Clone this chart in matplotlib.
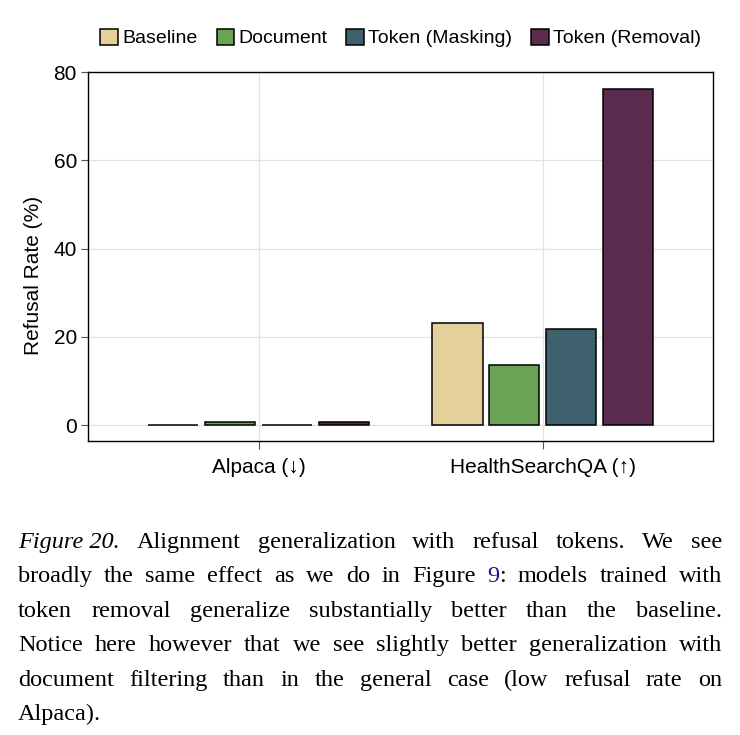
import matplotlib
matplotlib.use('Agg')
import matplotlib.pyplot as plt
import numpy as np

categories = ['Alpaca (↓)', 'HealthSearchQA (↑)']
methods = ['Baseline', 'Document', 'Token (Masking)', 'Token (Removal)']
baseline = [0.0, 23.1]
document = [0.7, 13.6]
masking = [0.0, 21.8]
removal = [0.8, 76.2]
colors = ['#E3D09A', '#6AA356', '#3F616D', '#5A2A4F']

caption_lines = [
    [[('Figure 20.', 'italic')], 'Alignment', 'generalization', 'with', 'refusal', 'tokens.', 'We', 'see'],
    ['broadly', 'the', 'same', 'effect', 'as', 'we', 'do', 'in', 'Figure', [('9', 'blue'), (':', 'normal')],
     'models', 'trained', 'with'],
    ['token', 'removal', 'generalize', 'substantially', 'better', 'than', 'the', 'baseline.'],
    ['Notice', 'here', 'however', 'that', 'we', 'see', 'slightly', 'better', 'generalization', 'with'],
    ['document', 'filtering', 'than', 'in', 'the', 'general', 'case', '(low', 'refusal', 'rate', 'on'],
    ['Alpaca).'],
]

plt.rcParams['font.family'] = ['Liberation Sans', 'DejaVu Sans']

fig = plt.figure(figsize=(7.4, 7.35), dpi=100)
ax = fig.add_axes([0.119, 0.4, 0.8446, 0.502])

series = [baseline, document, masking, removal]
x = np.arange(len(categories))
width = 0.177
offsets = [-0.3, -0.1, 0.1, 0.3]
for vals, off, c, lab in zip(series, offsets, colors, methods):
    ax.bar(x + off, vals, width, color=c, edgecolor='black', linewidth=1.1, label=lab, zorder=3)

ax.set_xlim(-0.6, 1.6)
ax.set_ylim(-3.6, 80)
ax.set_yticks([0, 20, 40, 60, 80])
ax.set_xticks(x)
ax.set_xticklabels(categories, fontsize=15)
ax.tick_params(axis='y', labelsize=15, length=5, color='#555555', pad=3)
ax.tick_params(axis='x', length=6, color='#555555', pad=6)
ax.grid(True, color='#e3e3e3', linewidth=0.9, zorder=0)
for s in ax.spines.values():
    s.set_linewidth(1.0)
ax.set_ylabel('Refusal Rate (%)', fontsize=15)
ax.yaxis.set_label_coords(-0.072, 0.45)

ax.legend(loc='center', bbox_to_anchor=(0.5, 1.092), ncol=4, frameon=False,
          fontsize=14, handlelength=0.9, handleheight=0.9, handletextpad=0.2,
          columnspacing=1.0, borderaxespad=0, borderpad=0)

# caption, justified line by line
fig.canvas.draw()
r = fig.canvas.get_renderer()
x0, x1 = 18 / 740, 722 / 740
y_top = 1 - 548 / 735
step = 34.4 / 735
fs = 17.5


def piece_text(xp, yp, txt, style):
    kw = dict(fontsize=fs, family='Liberation Serif', va='baseline', ha='left')
    if style == 'italic':
        kw['style'] = 'italic'
    if style == 'blue':
        kw['color'] = '#1a1a8c'
    return fig.text(xp, yp, txt, **kw)


for li, words in enumerate(caption_lines):
    yp = y_top - li * step
    items = []
    for w in words:
        pieces = [(w, 'normal')] if isinstance(w, str) else w
        items.append([piece_text(0, yp, txt, st) for txt, st in pieces])
    widths = [[a.get_window_extent(r).width / fig.bbox.width for a in arts] for arts in items]
    total = sum(sum(ws) for ws in widths)
    space = 0.0058
    if li < len(caption_lines) - 1 and len(items) > 1:
        space = (x1 - x0 - total) / (len(items) - 1)
    xp = x0
    for arts, ws in zip(items, widths):
        for a, wd in zip(arts, ws):
            a.set_x(xp)
            xp += wd
        xp += space

fig.savefig('out.png', dpi=100)
